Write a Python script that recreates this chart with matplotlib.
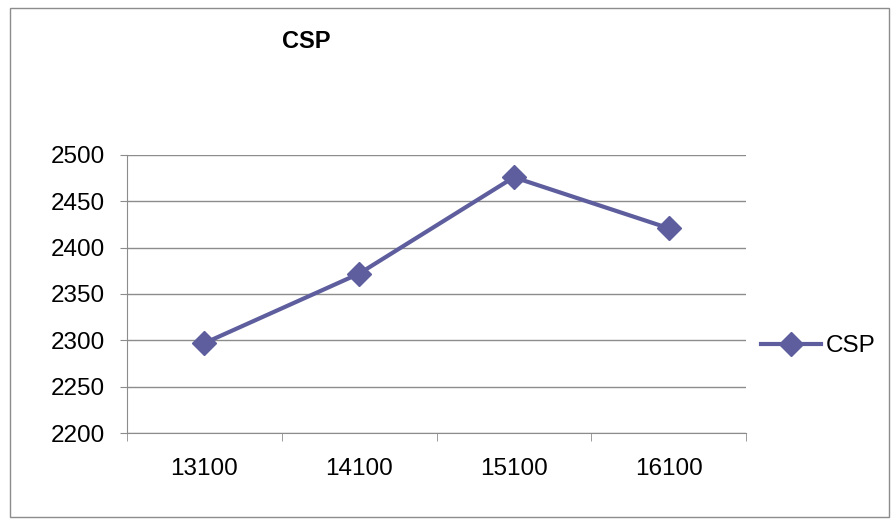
import matplotlib.pyplot as plt
from matplotlib.patches import Rectangle

plt.rcParams['font.family'] = ['Liberation Sans', 'DejaVu Sans']

categories = ['13100', '14100', '15100', '16100']
csp = [2297, 2372, 2476, 2421]
yticks = [2200, 2250, 2300, 2350, 2400, 2450, 2500]

color = '#5E5E9E'
grid = '#8c8c8c'
fs = 17.5

fig = plt.figure(figsize=(8.96, 5.22), dpi=100)
ax = fig.add_axes([127/896, 1 - 433/522, (746 - 127)/896, (433 - 155)/522])

x = list(range(len(categories)))
ax.plot(x, csp, color=color, lw=3, marker='D', ms=12, label='CSP')

ax.set_xlim(-0.5, len(categories) - 0.5)
ax.set_ylim(2200, 2500)
ax.set_yticks(yticks)
ax.set_yticklabels([str(v) for v in yticks], fontsize=fs)
ax.set_xticks(x)
ax.set_xticklabels(categories, fontsize=fs)
ax.tick_params(axis='x', length=0, pad=18)
ax.set_xticks([i - 0.5 for i in range(len(categories) + 1)], minor=True)
ax.tick_params(axis='x', which='minor', length=6, color=grid, direction='out')
ax.tick_params(axis='y', length=5, color=grid, direction='out', pad=11)
ax.yaxis.grid(True, color=grid, lw=1)
ax.set_axisbelow(True)
for s in ['top', 'right']:
    ax.spines[s].set_visible(False)
for s in ['left', 'bottom']:
    ax.spines[s].set_color(grid)

fig.text(306/896, 1 - 42/522, 'CSP', fontsize=17, fontweight='bold', ha='center', va='center')

ax.legend(loc='center left', bbox_to_anchor=(1.0, (346 - 433) / (155 - 433)), frameon=False,
          fontsize=fs, handlelength=2.5, handletextpad=0.2, borderaxespad=0.4, borderpad=0.2)

fig.patches.append(Rectangle((10/896, 1 - 517/522), 879/896, 509/522, transform=fig.transFigure,
                             fill=False, edgecolor='#8c8c8c', lw=1))

fig.savefig('out.png', dpi=100)
